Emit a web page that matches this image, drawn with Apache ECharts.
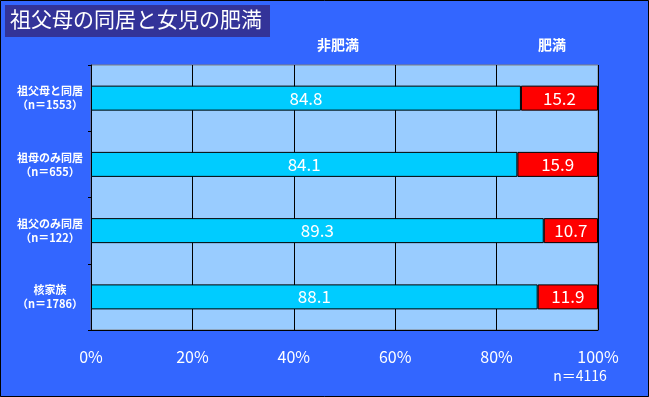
<!DOCTYPE html>
<html>
<head>
<meta charset="utf-8">
<script src="https://cdn.jsdelivr.net/npm/echarts@6/dist/echarts.min.js"></script>
<style>
  html, body { margin: 0; padding: 0; background: #3366ff; }
  #chart { width: 649px; height: 397px; }
</style>
</head>
<body>
<div id="chart"></div>
<script>
const categories = [
  "祖父母と同居\n（n＝1553）",
  "祖母のみ同居\n（n＝655）",
  "祖父のみ同居\n（n＝122）",
  "核家族\n（n＝1786）"
];
const nonObese = [84.8, 84.1, 89.3, 88.1];
const obese = [15.2, 15.9, 10.7, 11.9];
const xTicks = [0, 20, 40, 60, 80, 100];

const font = '"Noto Sans CJK JP", "Noto Sans", sans-serif';
const chart = echarts.init(document.getElementById("chart"));

const barLabel = {
  show: true,
  position: "inside",
  color: "#fff",
  fontSize: 17,
  fontFamily: font,
  formatter: (p) => p.value.toFixed(1)
};

chart.setOption({
  animation: false,
  backgroundColor: "#3366ff",
  textStyle: { fontFamily: font },
  grid: {
    left: 91, top: 65, width: 507, height: 265,
    show: true,
    backgroundColor: "#99ccff",
    borderColor: "#808080",
    borderWidth: 1
  },
  xAxis: {
    type: "value",
    min: xTicks[0],
    max: xTicks[xTicks.length - 1],
    interval: 20,
    axisLine: { show: true, lineStyle: { color: "#000", width: 1 } },
    axisTick: { show: false },
    splitLine: { show: true, lineStyle: { color: "#000", width: 1 } },
    axisLabel: {
      color: "#fff", fontSize: 16, margin: 19, fontFamily: font,
      formatter: "{value}%"
    }
  },
  yAxis: {
    type: "category",
    inverse: true,
    data: categories,
    axisLine: { show: true, lineStyle: { color: "#000", width: 1 } },
    axisTick: { show: true, length: 3, lineStyle: { color: "#000" } },
    splitLine: { show: false },
    axisLabel: {
      color: "#fff", fontSize: 11, fontWeight: "bold", fontFamily: font,
      align: "center", margin: 41, lineHeight: 14
    }
  },
  series: [
    {
      name: "非肥満", type: "bar", stack: "total", data: nonObese,
      barWidth: 25,
      itemStyle: { color: "#00ccff", borderColor: "#000", borderWidth: 1 },
      label: barLabel
    },
    {
      name: "肥満", type: "bar", stack: "total", data: obese,
      barWidth: 25,
      itemStyle: { color: "#ff0000", borderColor: "#000", borderWidth: 1 },
      label: barLabel
    }
  ],
  graphic: [
    {
      type: "rect", shape: { x: 0.5, y: 0.5, width: 648, height: 396 },
      style: { fill: "none", stroke: "#000", lineWidth: 1 }, z: 100
    },
    {
      type: "rect", shape: { x: 5, y: 5, width: 265, height: 32 },
      style: { fill: "#333399" }
    },
    {
      type: "text", left: 10, top: 9,
      style: { text: "祖父母の同居と女児の肥満", fill: "#fff", fontSize: 21, fontFamily: font }
    },
    {
      type: "text", x: 338, y: 45,
      style: { text: "非肥満", fill: "#fff", fontSize: 14, fontWeight: "bold", fontFamily: font, align: "center", verticalAlign: "middle" }
    },
    {
      type: "text", x: 552, y: 45,
      style: { text: "肥満", fill: "#fff", fontSize: 14, fontWeight: "bold", fontFamily: font, align: "center", verticalAlign: "middle" }
    },
    {
      type: "text", x: 580, y: 376,
      style: { text: "n＝4116", fill: "#fff", fontSize: 14, fontFamily: font, align: "center", verticalAlign: "middle" }
    }
  ]
});
</script>
</body>
</html>
